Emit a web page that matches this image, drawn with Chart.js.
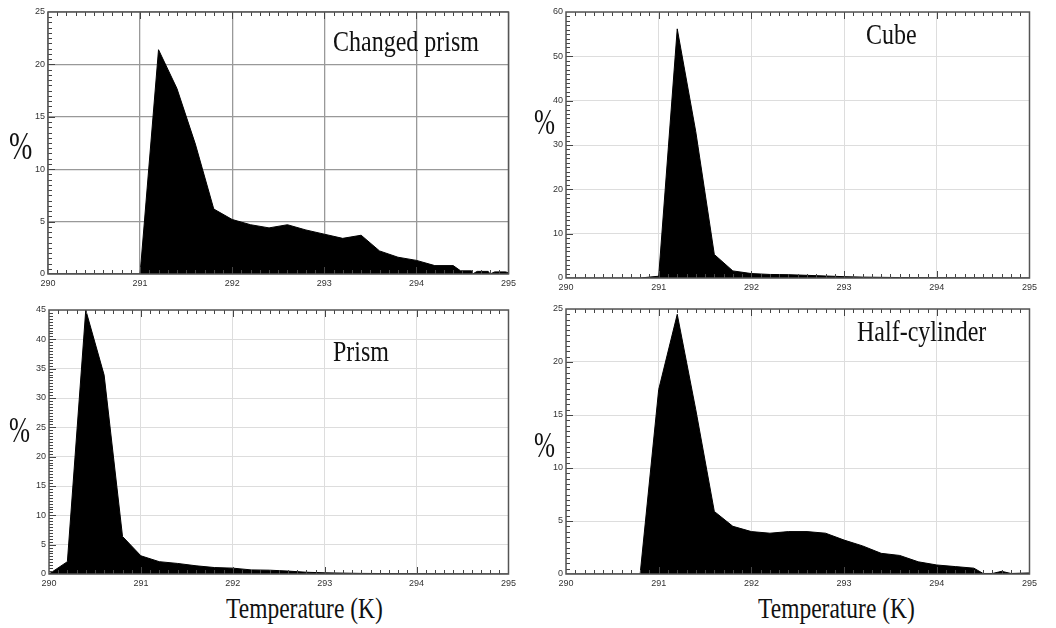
<!DOCTYPE html>
<html>
<head>
<meta charset="utf-8">
<script src="https://cdn.jsdelivr.net/npm/chart.js@4.4.0/dist/chart.umd.min.js"></script>
<style>
  html, body { margin: 0; padding: 0; background: #fff; }
  #wrap { position: relative; width: 1056px; height: 628px; overflow: hidden; }
  canvas { position: absolute; }
  .lbl { position: absolute; font-family: "Liberation Serif", "Times New Roman", serif; color: #111; white-space: nowrap; transform-origin: 0 50%; line-height: 1; }
</style>
</head>
<body>
<div id="wrap">
  <canvas id="c1" style="left:18px;top:2px" width="502" height="290"></canvas>
  <canvas id="c2" style="left:536px;top:2px" width="505" height="294"></canvas>
  <canvas id="c3" style="left:19px;top:300px" width="501" height="292"></canvas>
  <canvas id="c4" style="left:536px;top:299px" width="505" height="293"></canvas>

  <div class="lbl" style="left:333px;top:26px;font-size:30px;transform:scaleX(0.8)">Changed prism</div>
  <div class="lbl" style="left:866px;top:19px;font-size:30px;transform:scaleX(0.8)">Cube</div>
  <div class="lbl" style="left:333px;top:336px;font-size:30px;transform:scaleX(0.8)">Prism</div>
  <div class="lbl" style="left:857px;top:316px;font-size:30px;transform:scaleX(0.8)">Half-cylinder</div>

  <div class="lbl" style="left:9px;top:126px;font-size:40px;transform:scaleX(0.7)">%</div>
  <div class="lbl" style="left:534px;top:104px;font-size:36px;transform:scaleX(0.7)">%</div>
  <div class="lbl" style="left:9px;top:412px;font-size:36px;transform:scaleX(0.7)">%</div>
  <div class="lbl" style="left:534px;top:427px;font-size:36px;transform:scaleX(0.7)">%</div>

  <div class="lbl" style="left:226px;top:594px;font-size:29px;transform:scaleX(0.81)">Temperature (K)</div>
  <div class="lbl" style="left:758px;top:594px;font-size:29px;transform:scaleX(0.81)">Temperature (K)</div>
</div>
<script>
// Changed prism
const tempChanged = [290, 291.0, 291.2, 291.4, 291.6, 291.8, 292.0, 292.2, 292.4, 292.6, 292.8, 293.0, 293.2, 293.4, 293.6, 293.8, 294.0, 294.2, 294.4, 294.48, 294.6, 294.61, 294.66, 294.78, 294.8, 294.85, 294.97, 295];
const pctChanged  = [0, 0, 21.4, 17.7, 12.4, 6.2, 5.2, 4.7, 4.4, 4.7, 4.2, 3.8, 3.4, 3.7, 2.2, 1.6, 1.3, 0.8, 0.8, 0.3, 0.3, 0, 0.25, 0.25, 0, 0.2, 0.2, 0.1];

// Cube
const tempCube = [290, 290.8, 290.9, 291.0, 291.2, 291.4, 291.6, 291.8, 292.0, 292.2, 292.4, 292.6, 292.8, 293.0, 293.2, 293.4, 293.6, 294.0, 295];
const pctCube  = [0, 0, 0.2, 0.4, 56.2, 33, 5.3, 1.6, 1.0, 0.8, 0.75, 0.6, 0.45, 0.3, 0.2, 0.15, 0.1, 0.05, 0];

// Prism
const tempPrism = [290.0, 290.2, 290.4, 290.6, 290.8, 291.0, 291.2, 291.4, 291.6, 291.8, 292.0, 292.2, 292.4, 292.6, 292.8, 293.0, 293.4, 294.0, 295];
const pctPrism  = [0, 2.1, 45, 33.9, 6.4, 3.1, 2.1, 1.8, 1.4, 1.1, 1.0, 0.7, 0.65, 0.5, 0.3, 0.2, 0.1, 0.05, 0];

// Half-cylinder
const tempHalf = [290, 290.8, 291.0, 291.2, 291.4, 291.6, 291.8, 292.0, 292.2, 292.4, 292.6, 292.8, 293.0, 293.2, 293.4, 293.6, 293.8, 294.0, 294.2, 294.4, 294.5, 294.6, 294.7, 294.8, 295];
const pctHalf  = [0, 0, 17.4, 24.5, 15.5, 5.9, 4.5, 4.0, 3.85, 4.0, 4.0, 3.85, 3.2, 2.65, 1.95, 1.75, 1.15, 0.85, 0.7, 0.55, 0.05, 0.05, 0.25, 0.05, 0.1];

const xTicks = [290, 291, 292, 293, 294, 295];

// small inward ticks along the frame, like the original plots
const minorTicks = {
    id: 'minorTicks',
    afterDraw(chart, args, opts) {
        const ctx = chart.ctx;
        const a = chart.chartArea;
        const xs = chart.scales.x;
        const ys = chart.scales.y;
        ctx.save();
        ctx.strokeStyle = '#444';
        ctx.lineWidth = 1;
        ctx.beginPath();
        const nx = Math.round((xs.max - xs.min) / opts.xMinor);
        for (let i = 1; i < nx; i++) {
            const v = xs.min + i * opts.xMinor;
            const px = Math.round(xs.getPixelForValue(v)) + 0.5;
            const len = (i % 10 === 0) ? 7 : 4;
            ctx.moveTo(px, a.bottom); ctx.lineTo(px, a.bottom - len);
            ctx.moveTo(px, a.top); ctx.lineTo(px, a.top + len);
        }
        const ny = Math.round((ys.max - ys.min) / opts.yMinor);
        for (let i = 1; i < ny; i++) {
            const v = ys.min + i * opts.yMinor;
            const py = Math.round(ys.getPixelForValue(v)) + 0.5;
            const len = (i % opts.yPer === 0) ? 7 : 4;
            ctx.moveTo(a.left, py); ctx.lineTo(a.left + len, py);
        }
        ctx.stroke();
        // frame
        ctx.strokeStyle = '#555';
        ctx.lineWidth = 1.5;
        ctx.strokeRect(a.left, a.top, a.right - a.left, a.bottom - a.top);
        ctx.restore();
    }
};

function dibujar(id, temps, pct, yMax, yStep, yMinor, gridColor, gridWidth) {
    const pts = temps.map((t, i) => ({ x: t, y: pct[i] }));
    new Chart(document.getElementById(id), {
        type: 'line',
        data: {
            datasets: [{
                data: pts,
                borderColor: '#000',
                backgroundColor: '#000',
                borderWidth: 1,
                pointRadius: 0,
                tension: 0,
                fill: 'origin'
            }]
        },
        options: {
            responsive: false,
            animation: false,
            events: [],
            layout: { padding: { top: 10, right: 6, left: 0, bottom: 0 } },
            plugins: {
                legend: { display: false },
                tooltip: { enabled: false },
                minorTicks: { xMinor: 0.1, yMinor: yMinor, yPer: Math.round(yStep / yMinor) }
            },
            scales: {
                x: {
                    type: 'linear',
                    min: 290,
                    max: 295,
                    afterBuildTicks: s => { s.ticks = xTicks.map(v => ({ value: v })); },
                    afterFit: s => { s.height = 18; },
                    ticks: {
                        font: { family: 'Liberation Sans', size: 9 },
                        color: '#333',
                        padding: 4,
                        maxRotation: 0
                    },
                    grid: { color: gridColor, lineWidth: gridWidth, drawTicks: false },
                    border: { display: false }
                },
                y: {
                    min: 0,
                    max: yMax,
                    afterFit: s => { s.width = 30; },
                    ticks: {
                        stepSize: yStep,
                        font: { family: 'Liberation Sans', size: 9 },
                        color: '#333',
                        padding: 3
                    },
                    grid: { color: gridColor, lineWidth: gridWidth, drawTicks: false },
                    border: { display: false }
                }
            }
        },
        plugins: [minorTicks]
    });
}

dibujar('c1', tempChanged, pctChanged, 25, 5, 0.5, '#999', 1.3);
dibujar('c2', tempCube, pctCube, 60, 10, 1, '#ddd', 1);
dibujar('c3', tempPrism, pctPrism, 45, 5, 0.5, '#ddd', 1);
dibujar('c4', tempHalf, pctHalf, 25, 5, 0.5, '#ddd', 1);
</script>
</body>
</html>
